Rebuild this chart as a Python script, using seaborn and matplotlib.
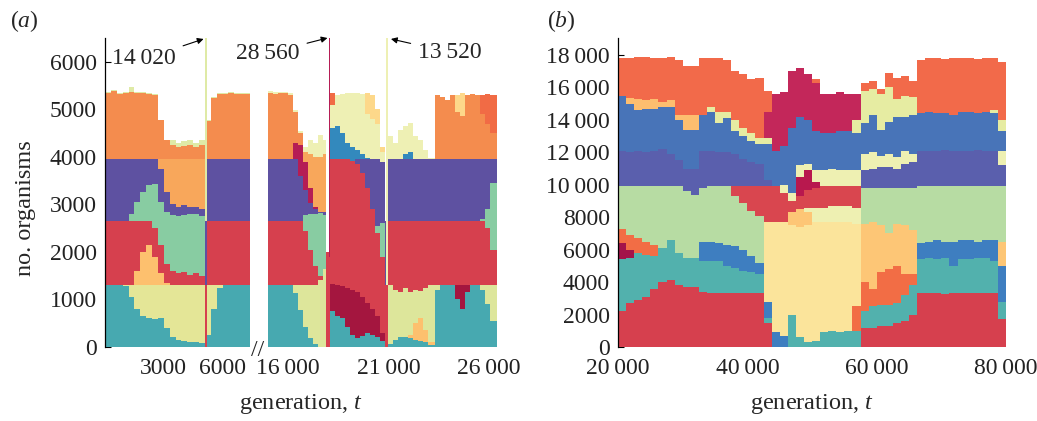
import numpy as np
import pandas as pd
import matplotlib
matplotlib.use("Agg")
import matplotlib.pyplot as plt
import seaborn as sns

# Every list holds the upper edge (no. organisms) of one clone band per bin,
# bands listed bottom to top; a band that is absent repeats the edge below it.

# ---- panel (a), first segment: generations 0 - 7400 ----
a1_edges = [0, 300, 600, 900, 1200, 1500, 1800, 2100, 2400, 2700, 3000, 3300, 3600,
            3900, 4200, 4500, 4800, 5090, 5180, 5400, 5700, 6000, 6300, 6600, 6900, 7200, 7400]
a1_teal = [1300, 1300, 1300, 1280, 1050, 800, 650, 620, 580, 620, 400, 220, 150, 120, 110, 100, 90,
           0, 250, 800, 1250, 1300, 1300, 1300, 1300, 1300]
a1_yellow = [1300, 1300, 1300, 1300, 1300, 1300, 1300, 1300, 1300, 1300, 1300, 1300, 1300, 1300, 1300, 1300, 1300,
             0, 1300, 1300, 1300, 1300, 1300, 1300, 1300, 1300]
a1_ltri = [1300, 1300, 1300, 1300, 1300, 1600, 2000, 2150, 1900, 1550, 1350, 1300, 1300, 1300, 1300, 1300, 1300,
           0, 1300, 1300, 1300, 1300, 1300, 1300, 1300, 1300]
a1_red = [2650, 2650, 2650, 2650, 2650, 2650, 2650, 2650, 2500, 2150, 1750, 1600, 1560, 1580, 1520, 1550, 1500,
          1300, 2650, 2650, 2650, 2650, 2650, 2650, 2650, 2650]
a1_green = [2650, 2650, 2650, 2650, 2800, 3050, 3250, 3400, 3420, 3050, 2850, 2780, 2750, 2780, 2800, 2800, 2750,
            1300, 2650, 2650, 2650, 2650, 2650, 2650, 2650, 2650]
a1_purple = [3950, 3950, 3950, 3950, 3950, 3950, 3950, 3950, 3950, 3750, 3250, 3000, 2950, 2980, 2950, 2950, 2900,
             2650, 3950, 3950, 3950, 3950, 3950, 3950, 3950, 3950]
a1_apricot = [3950, 3950, 3950, 3950, 3950, 3950, 3950, 3950, 3950, 3950, 3950, 3950, 3950, 3950, 3950, 3950, 3950,
              2650, 3950, 3950, 3950, 3950, 3950, 3950, 3950, 3950]
a1_orange = [5350, 5380, 5330, 5350, 5360, 5340, 5350, 5330, 5300, 4780, 4350, 4250, 4200, 4230, 4250, 4200, 4250,
             2650, 4750, 5230, 5330, 5330, 5340, 5320, 5330, 5330]
a1_pale = [5370, 5400, 5350, 5370, 5460, 5360, 5370, 5350, 5320, 4780, 4350, 4350, 4300, 4330, 4350, 4300, 4350,
           14020, 4770, 5250, 5350, 5350, 5360, 5340, 5350, 5350]

# ---- panel (a), second segment: generations 15 000 - 26 400 ----
a2_edges = [15000, 15250, 15500, 15750, 16000, 16250, 16500, 16750, 17000, 17250, 17500, 17750,
            17900, 18020, 18110, 18330, 18580, 18830, 19080, 19330, 19580, 19830, 20080, 20330,
            20580, 20800, 20880, 20970, 21200, 21450, 21700, 21950, 22200, 22450, 22700, 22950,
            23300, 23550, 23800, 24050, 24300, 24550, 24800, 25050, 25300, 25550, 25800, 26050, 26400]
a2_teal = [1300, 1300, 1300, 1300, 1300, 1130, 780, 430, 190, 70, 0, 0, 0, 0,
           750, 650, 600, 430, 250, 180, 230, 290, 260, 220, 120, 0, 0,
           60, 150, 200, 220, 180, 150, 120, 100, 50,
           1200, 1300, 1300, 1300, 1000, 800, 1150, 1300, 1300, 1200, 900, 550]
a2_small = [1300, 1300, 1300, 1300, 1300, 1130, 780, 430, 190, 70, 0, 0, 0, 0,
            750, 650, 600, 430, 250, 180, 230, 290, 260, 220, 120, 0, 0,
            60, 150, 200, 220, 250, 500, 600, 350, 100,
            1200, 1300, 1300, 1300, 1000, 800, 1150, 1300, 1300, 1200, 900, 550]
a2_yellow = [1300, 1300, 1300, 1300, 1300, 1300, 1300, 1300, 1300, 1300, 1400, 1650, 0, 0,
             750, 650, 600, 430, 250, 180, 230, 290, 260, 220, 120, 0, 0,
             1300, 1200, 1150, 1250, 1150, 1200, 1180, 1250, 1300,
             1300, 1300, 1300, 1300, 1000, 800, 1150, 1300, 1300, 1300, 1300, 1300]
a2_darkred = [1300, 1300, 1300, 1300, 1300, 1300, 1300, 1300, 1300, 1300, 1400, 1650, 0, 0,
              1330, 1300, 1280, 1250, 1200, 1150, 1050, 920, 800, 650, 300, 0, 0,
              1300, 1200, 1150, 1250, 1150, 1200, 1180, 1250, 1300,
              1300, 1300, 1300, 1300, 1300, 1300, 1300, 1300, 1300, 1300, 1300, 1300]
a2_red = [2650, 2650, 2650, 2650, 2650, 2650, 2650, 2450, 2050, 1700, 1500, 1650, 2000, 1900,
          3950, 3950, 3950, 3950, 3920, 3850, 3650, 3350, 2900, 2400, 1900, 1300, 1300,
          2650, 2650, 2650, 2650, 2650, 2650, 2650, 2650, 2650,
          2650, 2650, 2650, 2650, 2650, 2650, 2650, 2650, 2650, 2650, 2500, 2050]
a2_green = [2650, 2650, 2650, 2650, 2650, 2650, 2650, 2780, 2800, 2800, 2820, 2780, 2000, 1900,
            3950, 3950, 3950, 3950, 3920, 3850, 3650, 3350, 2900, 2550, 2600, 1300, 1300,
            2650, 2650, 2650, 2650, 2650, 2650, 2650, 2650, 2650,
            2650, 2650, 2650, 2650, 2650, 2650, 2650, 2650, 2650, 2700, 2900, 3450]
a2_purple = [3950, 3950, 3950, 3950, 3950, 3950, 3600, 3300, 3020, 2910, 2850, 2830, 2000, 1900,
             3950, 3950, 3950, 3950, 3920, 3950, 3950, 3950, 3950, 3950, 3900, 2650, 1300,
             3950, 3950, 3950, 3950, 3950, 3950, 3950, 3950, 3950,
             3950, 3950, 3950, 3950, 3950, 3950, 3950, 3950, 3950, 3950, 3950, 3950]
a2_dmid = [3950, 3950, 3950, 3950, 3950, 4300, 4250, 3900, 3350, 2950, 2850, 2830, 2000, 28560,
           3950, 3950, 3950, 3950, 3920, 3950, 3950, 3950, 3950, 3950, 3900, 2650, 1300,
           3950, 3950, 3950, 3950, 3950, 3950, 3950, 3950, 3950,
           3950, 3950, 3950, 3950, 3950, 3950, 3950, 3950, 3950, 3950, 3950, 3950]
a2_blue = [3950, 3950, 3950, 3950, 3950, 4300, 4250, 3900, 3350, 2950, 2850, 2830, 2000, 28560,
           4600, 4650, 4500, 4300, 4200, 4150, 4050, 3980, 3950, 3950, 3900, 2650, 1300,
           3950, 3950, 3950, 4050, 4100, 3950, 3950, 3950, 3950,
           3950, 3950, 3950, 3950, 3950, 3950, 3950, 3950, 3950, 3950, 3950, 3950]
a2_apricot = [3950, 3950, 3950, 3950, 3950, 4300, 4250, 4100, 4050, 4000, 4000, 4050, 2000, 28560,
              4600, 4650, 4500, 4300, 4200, 4150, 4050, 3980, 3950, 3950, 3900, 2650, 1300,
              3950, 3950, 3950, 4050, 4100, 3950, 3950, 3950, 3950,
              3950, 3950, 3950, 3950, 3950, 3950, 3950, 3950, 3950, 3950, 3950, 3950]
a2_orange = [5350, 5330, 5350, 5340, 5300, 4950, 4500, 4100, 4050, 4000, 4000, 4050, 2000, 28560,
             4600, 4650, 4500, 4300, 4200, 4150, 4050, 3980, 3950, 3950, 3900, 2650, 1300,
             3950, 3950, 3950, 4050, 4100, 3950, 3950, 3950, 3950,
             5300, 5250, 5200, 5300, 4950, 4850, 5300, 5330, 5300, 4900, 4700, 4500]
a2_pale = [5380, 5360, 5370, 5360, 5340, 4980, 4550, 4200, 4350, 4300, 4450, 4350, 2000, 28560,
           5100, 5300, 5330, 5350, 5350, 5340, 5330, 4900, 4800, 4700, 4100, 2650, 13520,
           4430, 4290, 4570, 4640, 4710, 4430, 4360, 4150, 3980,
           5300, 5250, 5200, 5300, 4950, 4850, 5300, 5330, 5300, 4900, 4700, 4500]
a2_yorange = [5380, 5360, 5370, 5360, 5340, 4980, 4550, 4200, 4350, 4300, 4450, 4350, 2000, 28560,
              5100, 5300, 5330, 5350, 5350, 5340, 5330, 5350, 5300, 5000, 4200, 2650, 13520,
              4430, 4290, 4570, 4640, 4710, 4430, 4360, 4150, 3980,
              5300, 5250, 5200, 5300, 5300, 5350, 5300, 5330, 5300, 4900, 4700, 4500]
a2_ored = [5380, 5360, 5370, 5360, 5340, 4980, 4550, 4200, 4350, 4300, 4450, 4350, 2000, 28560,
           5350, 5300, 5330, 5350, 5350, 5340, 5330, 5350, 5300, 5000, 4200, 2650, 13520,
           4430, 4290, 4570, 4640, 4710, 4430, 4360, 4150, 3980,
           5300, 5250, 5200, 5300, 5300, 5350, 5300, 5330, 5300, 5300, 5330, 5300]

# ---- panel (b): generations 20 000 - 80 000 ----
b_edges = [20000, 21250, 22500, 23750, 25000, 26250, 27500, 28750, 30000, 31250, 32500, 33750,
           35000, 36250, 37500, 38750, 40000, 41250, 42500, 43750, 45000, 46250, 47500, 48750,
           50000, 51250, 52500, 53750, 55000, 56250, 57500, 58750, 60000, 61250, 62500, 63750,
           65000, 66250, 67500, 68750, 70000, 71250, 72500, 73750, 75000, 76250, 77500, 78750, 80000]
b_red = [2250, 2690, 2900, 3100, 3600, 4000, 4100, 3800, 3700, 3700, 3400, 3300, 3300, 3300, 3300, 3300,
         3300, 3300, 1500, 0, 0, 0, 0, 0, 0, 0, 0, 0, 0, 0, 1200, 1200,
         1300, 1300, 1500, 1600, 2000, 3300, 3300, 3300, 3250, 3300, 3300, 3300, 3300, 3300, 3300, 1700]
b_teal = [5450, 5500, 5800, 5700, 5600, 6100, 6600, 5800, 5500, 5500, 5300, 5300, 5300, 5000, 4900, 4700,
          4600, 4500, 1800, 0, 0, 2000, 600, 300, 400, 900, 1000, 950, 1000, 1000, 2200, 2500,
          2600, 2600, 2700, 3200, 3800, 5400, 5500, 5450, 5500, 5000, 5400, 5450, 5500, 5500, 5300, 2800]
b_bluelow = [5450, 5500, 5800, 5700, 5600, 6100, 6600, 5800, 5500, 5500, 6500, 6500, 6400, 6300, 6200, 6000,
             5600, 5200, 2800, 900, 700, 2000, 600, 300, 400, 900, 1000, 950, 1000, 1000, 2200, 2500,
             2600, 2600, 2700, 3200, 3800, 6400, 6500, 6600, 6500, 6500, 6600, 6600, 6500, 6600, 6600, 5000]
b_darkred = [6400, 6000, 5800, 5700, 5600, 6100, 6600, 5800, 5500, 5500, 6500, 6500, 6400, 6300, 6200, 6000,
             5600, 5200, 2800, 900, 700, 2000, 600, 300, 400, 900, 1000, 950, 1000, 1000, 2200, 2500,
             2600, 2600, 2700, 3200, 3800, 6400, 6500, 6600, 6500, 6500, 6600, 6600, 6500, 6600, 6600, 5000]
b_coral = [7300, 6900, 6700, 6500, 6300, 6100, 6600, 5800, 5500, 5500, 6500, 6500, 6400, 6300, 6200, 6000,
           5600, 5200, 2800, 900, 700, 2000, 600, 300, 400, 900, 1000, 950, 1000, 2500, 4000, 3600,
           4600, 4800, 5000, 4500, 4500, 6400, 6500, 6600, 6500, 6500, 6600, 6600, 6500, 6600, 6600, 5000]
b_cream = [7300, 6900, 6700, 6500, 6300, 6100, 6600, 5800, 5500, 5500, 6500, 6500, 6400, 6300, 6200, 6000,
           5600, 5200, 7700, 7700, 7700, 7500, 7400, 7500, 7700, 7700, 7700, 7700, 7700, 7600, 4000, 3600,
           4600, 4800, 5000, 4500, 4500, 6400, 6500, 6600, 6500, 6500, 6600, 6600, 6500, 6600, 6600, 5000]
b_apricot = [7300, 6900, 6700, 6500, 6300, 6100, 6600, 5800, 5500, 5500, 6500, 6500, 6400, 6300, 6200, 6000,
             5600, 5200, 7700, 7700, 7700, 8300, 8500, 8300, 7700, 7700, 7700, 7700, 7700, 7600, 7600, 7700,
             7500, 7000, 7600, 7500, 7200, 6400, 6500, 6600, 6500, 6500, 6600, 6600, 6500, 6600, 6600, 6500]
b_lightgreen = [9950, 9950, 9950, 9950, 9950, 9950, 9950, 9900, 9600, 9400, 9800, 9900, 9900, 9900, 9300, 8900,
                8400, 8100, 7700, 7700, 7700, 8300, 8500, 8300, 7700, 7700, 7700, 7700, 7700, 7600, 9800, 9800,
                9800, 9800, 9800, 9800, 9800, 9900, 9900, 9900, 9950, 9900, 9900, 9950, 9900, 9900, 9900, 9900]
b_palelo = [9950, 9950, 9950, 9950, 9950, 9950, 9950, 9900, 9600, 9400, 9800, 9900, 9900, 9900, 9300, 8900,
            8400, 8100, 7700, 7700, 7700, 8300, 8500, 8600, 8600, 8600, 8700, 8700, 8700, 8600, 9800, 9800,
            9800, 9800, 9800, 9800, 9800, 9900, 9900, 9900, 9950, 9900, 9900, 9950, 9900, 9900, 9900, 9900]
b_redmid = [9950, 9950, 9950, 9950, 9950, 9950, 9950, 9900, 9600, 9400, 9800, 9900, 9900, 9900, 9900, 9900,
            9900, 9900, 9900, 9900, 9500, 9000, 9300, 9700, 9800, 9900, 9900, 9900, 9900, 9900, 9800, 9800,
            9800, 9800, 9800, 9800, 9800, 9900, 9900, 9900, 9950, 9900, 9900, 9950, 9900, 9900, 9900, 9900]
b_crimsonlo = [9950, 9950, 9950, 9950, 9950, 9950, 9950, 9900, 9600, 9400, 9800, 9900, 9900, 9900, 9900, 9900,
               9900, 9900, 9900, 9900, 9500, 9000, 10500, 10900, 10200, 9900, 9900, 9900, 9900, 9900, 9800, 9800,
               9800, 9800, 9800, 9800, 9800, 9900, 9900, 9900, 9950, 9900, 9900, 9950, 9900, 9900, 9900, 9900]
b_purple = [12100, 12000, 12100, 12000, 12100, 12200, 11900, 11500, 11000, 11000, 12100, 12100, 12000, 12000,
            11900, 11600, 11400, 11300, 10300, 9900, 9500, 9000, 10500, 10900, 10200, 9900, 9900, 9900,
            9900, 9900, 10900, 11000, 11100, 11100, 11000, 11300, 11400, 12100, 12100, 12100, 12150, 12100,
            12100, 12100, 12150, 12100, 12100, 11200]
b_palemid = [12100, 12000, 12100, 12000, 12100, 12200, 11900, 11500, 11000, 11000, 12100, 12100, 12000, 12000,
             11900, 11600, 11400, 11300, 10300, 9900, 10000, 9500, 11200, 11300, 10900, 10900, 11000, 10900,
             10900, 10900, 11900, 12000, 11800, 11900, 11700, 12100, 11900, 12100, 12100, 12100, 12150, 12100,
             12100, 12100, 12150, 12100, 12100, 12100]
b_blue = [15500, 15000, 14600, 14700, 14700, 14800, 14800, 14000, 13400, 13400, 14300, 14500, 13800, 14100,
          13300, 13000, 12700, 12500, 12500, 12100, 12400, 13500, 14200, 14000, 13300, 13200, 13200, 13300,
          13300, 13200, 13800, 14300, 13400, 13900, 14200, 14200, 14300, 14400, 14500, 14400, 14450, 14300,
          14500, 14500, 14400, 14500, 14400, 13300]
b_lightorange = [15500, 15350, 15300, 15200, 15300, 15100, 15200, 14300, 14300, 14300, 14300, 14500, 13800, 14100,
                 13300, 13000, 12700, 12500, 12500, 12100, 12400, 13500, 14200, 14000, 13300, 13200, 13200, 13300,
                 13300, 13200, 13800, 14300, 13400, 13900, 14200, 14200, 14300, 14400, 14500, 14400, 14450, 14300,
                 14500, 14500, 14400, 14500, 14400, 13300]
b_paletop = [15500, 15350, 15300, 15200, 15300, 15100, 15200, 14300, 14300, 14300, 14300, 14800, 14500, 14500,
             14000, 13500, 13200, 12900, 12900, 12100, 12400, 13500, 14200, 14000, 13300, 13200, 13200, 13300,
             13300, 14000, 15800, 15900, 15600, 16000, 15300, 15500, 15400, 14400, 14500, 14400, 14450, 14300,
             14500, 14500, 14400, 14500, 14600, 14000]
b_crimson = [15500, 15350, 15300, 15200, 15300, 15100, 15200, 14300, 14300, 14300, 14300, 14800, 14500, 14500,
             14000, 13500, 13200, 12900, 14500, 15600, 15700, 17000, 17200, 16800, 16300, 15600, 15600, 15700,
             15600, 15600, 15800, 15900, 15600, 16000, 15300, 15500, 15400, 14400, 14500, 14400, 14450, 14300,
             14500, 14500, 14400, 14500, 14600, 14000]
b_orangered = [17800, 17800, 17850, 17850, 17800, 17800, 17850, 17700, 17300, 17300, 17800, 17800, 17800, 17700,
               17000, 16800, 16500, 16600, 15800, 15600, 15700, 17000, 17200, 16800, 16500, 15600, 15600, 15700,
               15600, 15600, 16300, 16400, 15900, 16900, 16600, 16700, 16400, 17700, 17800, 17800, 17750, 17800,
               17800, 17800, 17750, 17800, 17800, 17600]

# tick labels
a_yticks = [0, 1000, 2000, 3000, 4000, 5000, 6000]
a1_xticks, a1_xlabels = [3000, 6000], ["3000", "6000"]
a2_xticks, a2_xlabels = [16000, 21000, 26000], ["16\u2009000", "21\u2009000", "26\u2009000"]
b_yticks = [0, 2000, 4000, 6000, 8000, 10000, 12000, 14000, 16000, 18000]
b_ylabels = ["0", "2000", "4000", "6000", "8000", "10\u2009000", "12\u2009000", "14\u2009000",
             "16\u2009000", "18\u2009000"]
b_xticks = [20000, 40000, 60000, 80000]
b_xlabels = ["20\u2009000", "40\u2009000", "60\u2009000", "80\u2009000"]

a1_bands = {"teal": a1_teal, "yellow": a1_yellow, "ltri": a1_ltri, "red": a1_red, "green": a1_green,
            "purple": a1_purple, "apricot": a1_apricot, "orange": a1_orange, "pale": a1_pale}
a1_colours = {"teal": "#47a9b0", "yellow": "#e4e697", "ltri": "#fdc06e", "red": "#d6404e",
              "green": "#88cca2", "purple": "#5e51a1", "apricot": "#f8a75b", "orange": "#f48c4e",
              "pale": "#dfeaa6"}

a2_bands = {"teal": a2_teal, "small": a2_small, "yellow": a2_yellow, "darkred": a2_darkred, "red": a2_red,
            "green": a2_green, "purple": a2_purple, "dmid": a2_dmid, "blue": a2_blue, "apricot": a2_apricot,
            "orange": a2_orange, "pale": a2_pale, "yorange": a2_yorange, "ored": a2_ored}
a2_colours = {"teal": "#47a9b0", "small": "#fdc06e", "yellow": "#dde69b", "darkred": "#a4163f",
              "red": "#d6404e", "green": "#88cca2", "purple": "#5e51a1", "dmid": "#b51d55",
              "blue": "#3389bd", "apricot": "#f8a75b", "orange": "#f48c4e", "pale": "#eef0b4",
              "yorange": "#fdd88a", "ored": "#f16b45"}

b_bands = {"red": b_red, "teal": b_teal, "bluelow": b_bluelow, "darkred": b_darkred, "coral": b_coral,
           "cream": b_cream, "apricot": b_apricot, "lightgreen": b_lightgreen, "palelo": b_palelo,
           "redmid": b_redmid, "crimsonlo": b_crimsonlo, "purple": b_purple, "palemid": b_palemid,
           "blue": b_blue, "lightorange": b_lightorange, "paletop": b_paletop, "crimson": b_crimson,
           "orangered": b_orangered}
b_colours = {"red": "#d6404e", "teal": "#52b1ad", "bluelow": "#3e7ec0", "darkred": "#a3134a",
             "coral": "#f26d45", "cream": "#fbe49b", "apricot": "#fdc676", "lightgreen": "#b7dca3",
             "palelo": "#eef0b2", "redmid": "#d9464f", "crimsonlo": "#b8184e", "purple": "#5a5fad",
             "palemid": "#eef0b2", "blue": "#4874b8", "lightorange": "#fdbe6f", "paletop": "#e6eca2",
             "crimson": "#c3275a", "orangered": "#f26a4a"}


def to_long(edges, bands):
    frames, below = [], np.zeros(len(edges) - 1)
    for name, top in bands.items():
        top = np.asarray(top, dtype=float)
        frames.append(pd.DataFrame({"gen": edges[:-1], "n": np.clip(top - below, 0, None), "clone": name}))
        below = np.maximum(below, top)
    return pd.concat(frames, ignore_index=True)


def muller(ax, edges, bands, colours):
    df = to_long(edges, bands)
    sns.histplot(data=df, x="gen", weights="n", hue="clone", hue_order=list(bands)[::-1],
                 palette=colours, multiple="stack", bins=edges, element="step",
                 alpha=1, linewidth=0, edgecolor="none", legend=False, ax=ax)
    ax.set_xlabel("")
    ax.set_ylabel("")
    ax.set_axisbelow(True)
    for s in ("top", "right", "bottom"):
        ax.spines[s].set_visible(False)
    ax.spines["left"].set_color("black")
    ax.spines["left"].set_linewidth(0.9)
    ax.tick_params(axis="x", length=0, pad=8, labelsize=17, colors="#222222")
    ax.tick_params(axis="y", direction="in", length=4, width=0.8, pad=6, labelsize=17,
                   colors="black", labelcolor="#222222")


sns.set_theme(style="ticks")
plt.rcParams["font.family"] = ["Liberation Serif", "DejaVu Serif"]
plt.rcParams["mathtext.fontset"] = "custom"
plt.rcParams["mathtext.rm"] = "Liberation Serif"
plt.rcParams["mathtext.it"] = "Liberation Serif:italic"

W, H = 1037, 421
fig = plt.figure(figsize=(W / 100, H / 100), dpi=100)
ax1 = fig.add_axes([105 / W, 1 - 347 / H, 145 / W, 309 / H])
ax2 = fig.add_axes([268 / W, 1 - 347 / H, 229 / W, 309 / H])
axb = fig.add_axes([618 / W, 1 - 347 / H, 388 / W, 309 / H])

muller(ax1, a1_edges, a1_bands, a1_colours)
ax1.set_xlim(0, 7400)
ax1.set_ylim(0, 6500)
ax1.set_xticks(a1_xticks, a1_xlabels)
ax1.set_yticks(a_yticks, [str(v) for v in a_yticks])

muller(ax2, a2_edges, a2_bands, a2_colours)
ax2.set_xlim(15000, 26400)
ax2.set_ylim(0, 6500)
ax2.set_xticks(a2_xticks, a2_xlabels)
ax2.set_yticks([])
ax2.spines["left"].set_visible(False)

muller(axb, b_edges, b_bands, b_colours)
axb.set_xlim(20000, 80000)
axb.set_ylim(0, 19050)
axb.set_xticks(b_xticks, b_xlabels)
axb.set_yticks(b_yticks, b_ylabels)

arrow = dict(arrowstyle="-|>", color="black", lw=0.8, mutation_scale=9, shrinkA=3, shrinkB=0)
ax1.annotate("14\u2009020", xy=(5030, 6480), xytext=(1990, 6060), ha="center", va="center",
             fontsize=17, arrowprops=arrow, annotation_clip=False)
ax2.annotate("28\u2009560", xy=(17960, 6500), xytext=(15000, 6180), ha="center", va="center",
             fontsize=17, arrowprops=arrow, annotation_clip=False)
ax2.annotate("13\u2009520", xy=(21120, 6480), xytext=(24050, 6200), ha="center", va="center",
             fontsize=17, arrowprops=arrow, annotation_clip=False)

fig.text(258 / W, 1 - 350 / H, "//", fontsize=17, ha="center", va="center")
fig.text(10 / W, 1 - 21 / H, "($a$)", fontsize=17, ha="left", va="center")
fig.text(547 / W, 1 - 21 / H, "($b$)", fontsize=17, ha="left", va="center")
fig.text(25 / W, 1 - 208 / H, "no. organisms", fontsize=17.5, rotation=90, ha="center", va="center")
fig.text(301 / W, 1 - 404 / H, "generation, $t$", fontsize=17.5, ha="center", va="center")
fig.text(812 / W, 1 - 404 / H, "generation, $t$", fontsize=17.5, ha="center", va="center")

fig.savefig("out.png", dpi=100)
